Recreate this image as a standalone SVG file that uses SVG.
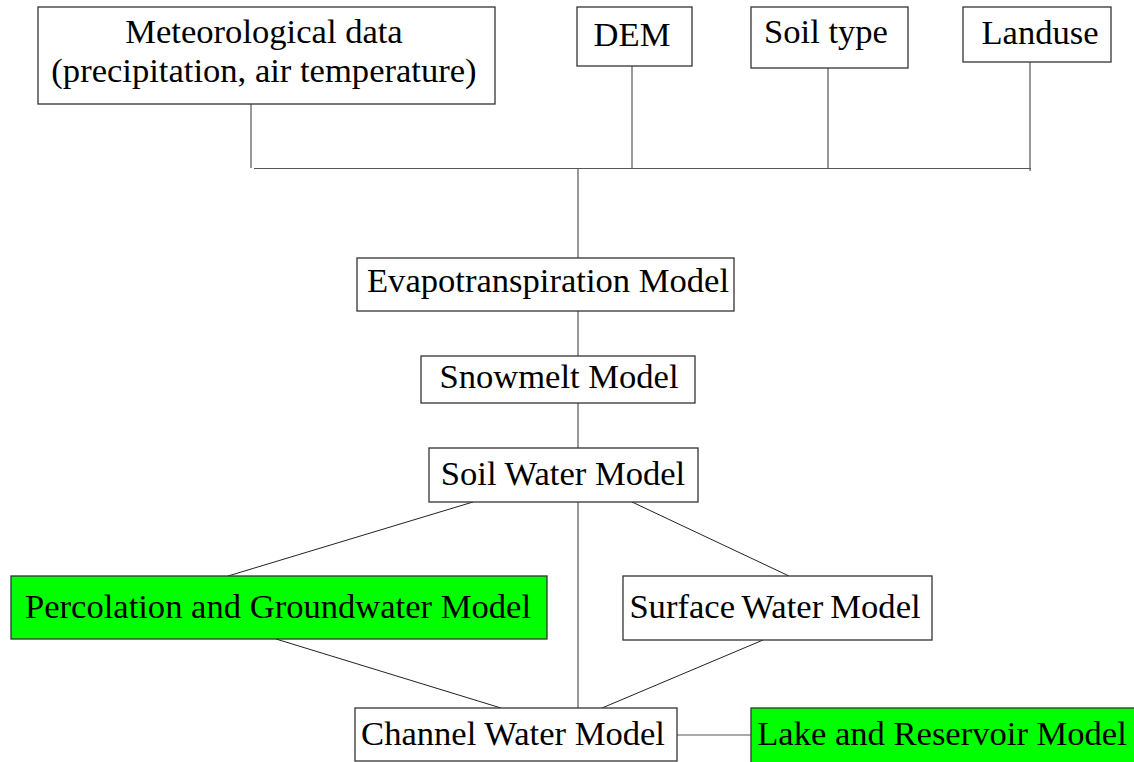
<svg xmlns="http://www.w3.org/2000/svg" width="1134" height="762" viewBox="0 0 1134 762">
<style>
.box{fill:#ffffff;stroke:#333333;stroke-width:1.3}
.green{fill:#00ff00;stroke:#333333;stroke-width:1.3}
.t{font-size:34.6px;fill:#000000}
.c{fill:none;stroke:#555555;stroke-width:1.2}
.d{fill:none;stroke:#222222;stroke-width:1}
</style>
<rect width="1134" height="762" fill="#ffffff"/>
<g id="connectors">
<path class="c" d="M251 104V168"/>
<path class="c" d="M254 168.5H1031"/>
<path class="c" d="M632 66V169"/>
<path class="c" d="M828 68V169"/>
<path class="c" d="M1030 62V171"/>
<path class="c" d="M578 169V258"/>
<path class="c" d="M578 311V356"/>
<path class="c" d="M578 403V448"/>
<path class="c" d="M578 502V708"/>
<path class="d" d="M473 502L228 576"/>
<path class="d" d="M632 502L789 576"/>
<path class="d" d="M276 639L501 708"/>
<path class="d" d="M763 640L602 708"/>
<path class="c" d="M677 735H751"/>
</g>
<g font-family="Liberation Serif, Times New Roman, serif">
<g id="meteo">
<rect class="box" x="38" y="7" width="457" height="97"/>
<text class="t" x="264" y="43" text-anchor="middle">Meteorological data</text>
<text class="t" x="264" y="82" text-anchor="middle">(precipitation, air temperature)</text>
</g>
<g id="dem">
<rect class="box" x="577" y="7" width="115" height="59"/>
<text class="t" x="632" y="46" text-anchor="middle">DEM</text>
</g>
<g id="soiltype">
<rect class="box" x="751" y="7" width="157" height="61"/>
<text class="t" x="826" y="43" text-anchor="middle">Soil type</text>
</g>
<g id="landuse">
<rect class="box" x="963" y="7" width="148" height="55"/>
<text class="t" x="1040" y="44" text-anchor="middle">Landuse</text>
</g>
<g id="evapo">
<rect class="box" x="357" y="258" width="377" height="53"/>
<text class="t" x="548" y="292" text-anchor="middle">Evapotranspiration Model</text>
</g>
<g id="snowmelt">
<rect class="box" x="421" y="356" width="274" height="47"/>
<text class="t" x="559" y="388" text-anchor="middle">Snowmelt Model</text>
</g>
<g id="soilwater">
<rect class="box" x="429" y="448" width="269" height="54"/>
<text class="t" x="563" y="485" text-anchor="middle">Soil Water Model</text>
</g>
<g id="percolation">
<rect class="green" x="11" y="576" width="536" height="63"/>
<text class="t" x="278" y="618" text-anchor="middle">Percolation and Groundwater Model</text>
</g>
<g id="surface">
<rect class="box" x="623" y="576" width="309" height="64"/>
<text class="t" x="775" y="618" text-anchor="middle" font-size="33.6" word-spacing="-1.5">Surface Water Model</text>
</g>
<g id="channel">
<rect class="box" x="355" y="708" width="322" height="53"/>
<text class="t" x="513" y="745" text-anchor="middle">Channel Water Model</text>
</g>
<g id="lake">
<rect class="green" x="751" y="708" width="390" height="60"/>
<text class="t" x="942" y="745" text-anchor="middle">Lake and Reservoir Model</text>
</g>
</g>
</svg>
